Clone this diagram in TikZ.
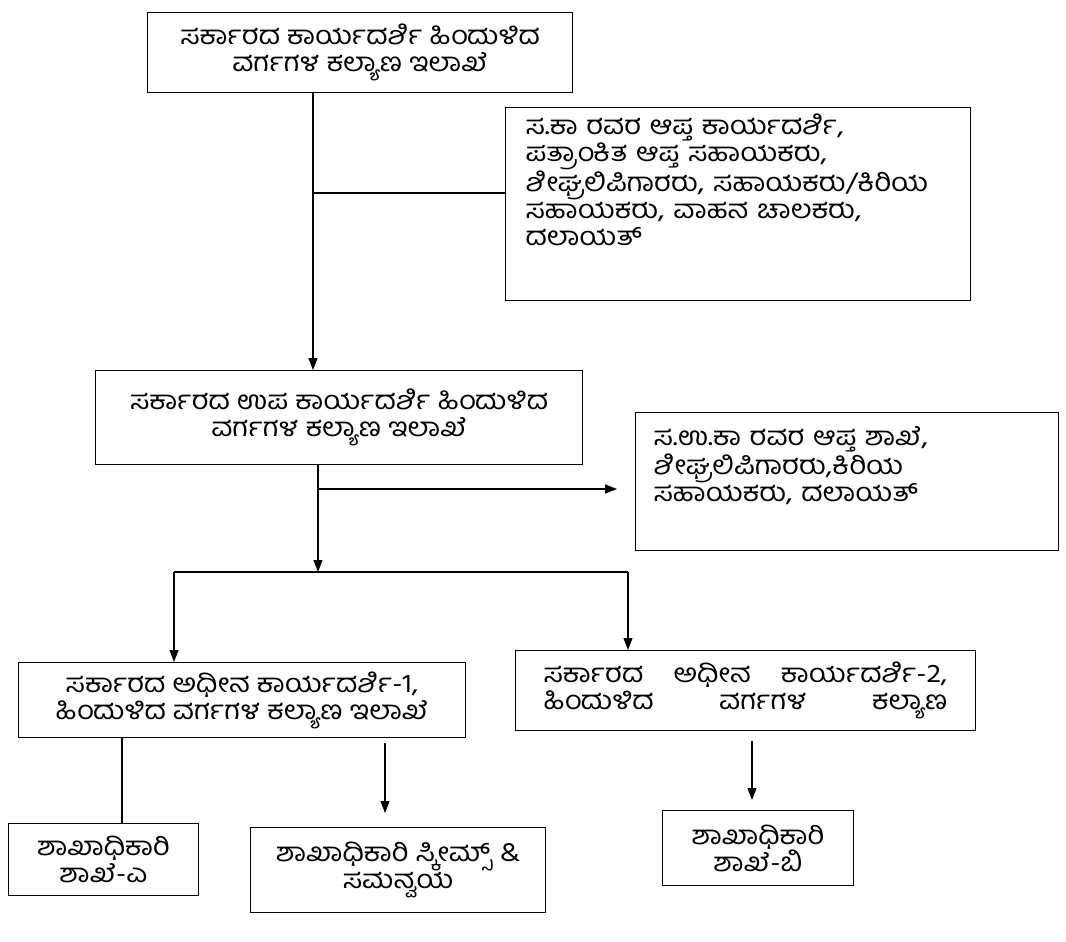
\documentclass[tikz,border=0pt]{standalone}
\usepackage{fontspec}
\newfontfamily\kannada[Script=Kannada, FakeStretch=1.12]{Hind Mysuru}
\usepackage{tikz}
\usetikzlibrary{arrows.meta,positioning}

\begin{document}
\begin{tikzpicture}[x=1pt, y=-1pt,
		block/.style={rectangle, draw, line width=1.1pt, anchor=north west, inner sep=0pt, align=center, font=\kannada\fontsize{26}{27}\selectfont},
		list/.style={block, align=left, inner xsep=20pt},
		line/.style={draw, line width=1.1pt, -{Triangle[length=12pt,width=9pt]}},
		link/.style={draw, line width=1.1pt}]
		\useasboundingbox (0,0) rectangle (1066,942);
		% Nodes
		\node [block, minimum width=425pt, minimum height=80pt] (sec) at (147,12) {ಸರ್ಕಾರದ ಕಾರ್ಯದರ್ಶಿ ಹಿಂದುಳಿದ\\ವರ್ಗಗಳ ಕಲ್ಯಾಣ ಇಲಾಖೆ};
		\node [list, text width=425pt, minimum height=193pt] (apta) at (505,107) {ಸ.ಕಾ ರವರ ಆಪ್ತ ಕಾರ್ಯದರ್ಶಿ,\\ಪತ್ರಾಂಕಿತ ಆಪ್ತ ಸಹಾಯಕರು,\\ಶೀಘ್ರಲಿಪಿಗಾರರು, ಸಹಾಯಕರು/ಕಿರಿಯ\\ಸಹಾಯಕರು, ವಾಹನ ಚಾಲಕರು,\\ದಲಾಯತ್\rule[-48pt]{0pt}{48pt}};
		\node [block, minimum width=487pt, minimum height=94pt] (usec) at (95,370) {ಸರ್ಕಾರದ ಉಪ ಕಾರ್ಯದರ್ಶಿ ಹಿಂದುಳಿದ\\ವರ್ಗಗಳ ಕಲ್ಯಾಣ ಇಲಾಖೆ};
		\node [list, inner xsep=18pt, text width=387pt, minimum height=138pt] (uapta) at (635,412) {ಸ.ಉ.ಕಾ ರವರ ಆಪ್ತ ಶಾಖೆ,\\ಶೀಘ್ರಲಿಪಿಗಾರರು,ಕಿರಿಯ\\ಸಹಾಯಕರು, ದಲಾಯತ್\rule[-35pt]{0pt}{35pt}};
		\node [block, minimum width=447pt, minimum height=75pt] (asecA) at (18,662) {ಸರ್ಕಾರದ ಅಧೀನ ಕಾರ್ಯದರ್ಶಿ-1,\\ಹಿಂದುಳಿದ ವರ್ಗಗಳ ಕಲ್ಯಾಣ ಇಲಾಖೆ};
		\node [list, inner xsep=28pt, text width=404pt, minimum height=80pt] (asecB) at (515,650) {ಸರ್ಕಾರದ\hfill ಅಧೀನ\hfill ಕಾರ್ಯದರ್ಶಿ-2,\\ಹಿಂದುಳಿದ\hfill ವರ್ಗಗಳ\hfill ಕಲ್ಯಾಣ};
		\node [block, minimum width=190pt, minimum height=72pt] (shaA) at (8,823) {ಶಾಖಾಧಿಕಾರಿ\\ಶಾಖೆ-ಎ};
		\node [block, minimum width=295pt, minimum height=85pt] (shaS) at (250,827) {ಶಾಖಾಧಿಕಾರಿ ಸ್ಕೀಮ್ಸ್ \&\\ಸಮನ್ವಯ};
		\node [block, minimum width=191pt, minimum height=75pt] (shaB) at (662,810) {ಶಾಖಾಧಿಕಾರಿ\\ಶಾಖೆ-ಬಿ};

		% Junctions
		\coordinate (brA) at (313,193);
		\coordinate (brB) at (318,489);
		\coordinate (dn) at (318,572);
		\coordinate (hl) at (174,572);
		\coordinate (hr) at (628,572);
		\coordinate (xA) at (122,0);
		\coordinate (xS) at (385,0);
		\coordinate (xB) at (752,0);

		% Paths
		\path [line] (sec.south -| brA) -- (usec.north -| brA);
		\path [link] (brA) -- (brA -| apta.west);
		\path [line] (usec.south -| dn) -- (dn);
		\path [line, shorten >=18pt] (brB) -- (brB -| uapta.west);
		\path [link] (hl) -- (hr);
		\path [line] (hl) -- (asecA.north -| hl);
		\path [line] (hr) -- (asecB.north -| hr);
		\path [link] (asecA.south -| xA) -- (shaA.north -| xA);
		\path [line, shorten <=5pt, shorten >=14pt] (asecA.south -| xS) -- (shaS.north -| xS);
		\path [line, shorten <=10pt, shorten >=10pt] (asecB.south -| xB) -- (shaB.north -| xB);
	\end{tikzpicture}
\end{document}
